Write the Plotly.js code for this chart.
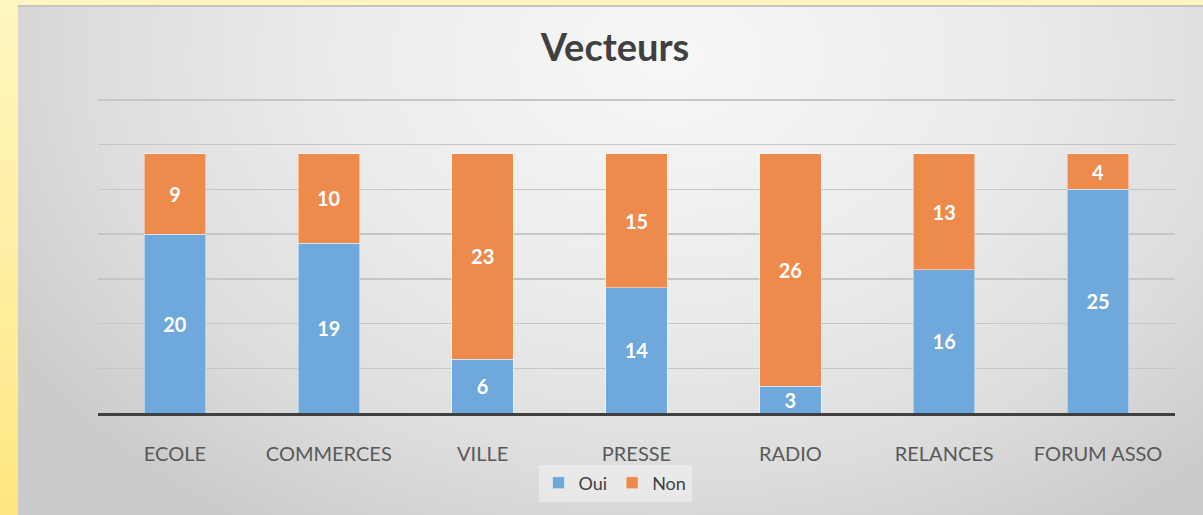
<!DOCTYPE html>
<html>
<head>
<meta charset="utf-8">
<script src="https://cdn.plot.ly/plotly-3.0.1.min.js"></script>
<style>
html,body{margin:0;padding:0;width:1203px;height:515px;overflow:hidden;}
body{background:linear-gradient(to bottom,#fff5c0 0%,#ffee9c 60%,#ffe680 100%);position:relative;}
#bg{position:absolute;left:18px;top:5px;width:1185px;height:510px;
 background:radial-gradient(ellipse 65% 110% at 55% 10%,#f7f7f7 0%,#ebebeb 45%,#dddddd 75%,#cbcbcb 100%);
 border-top:2px solid #c4c4c4;box-sizing:border-box;}
#chart{position:absolute;left:0;top:0;width:1203px;height:515px;}
</style>
</head>
<body>
<div id="bg"></div>
<div id="chart"></div>
<script>
const categories = ["ECOLE","COMMERCES","VILLE","PRESSE","RADIO","RELANCES","FORUM ASSO"];
const oui = [20,19,6,14,3,16,25];
const non = [9,10,23,15,26,13,4];
const seriesNames = ["Oui","Non"];
const colors = ["#6fa8da","#ee8b4c"];

const FONT = "Lato, 'Open Sans', sans-serif";
const labelFont = {family:FONT, size:20, color:"#ffffff", weight:"bold"};
const traces = [oui, non].map((vals,i)=>({
  type:"bar", x:categories, y:vals, name:seriesNames[i],
  marker:{color:colors[i], line:{color:"rgba(255,255,255,0.45)", width:1}},
  text:vals.map(String), textposition:"inside", insidetextanchor:"middle",
  textangle:0, constraintext:"none",
  textfont:labelFont, hoverinfo:"skip", cliponaxis:false
}));

const cx = (615-98)/1077;
const layout = {
  width:1203, height:515,
  paper_bgcolor:"rgba(0,0,0,0)", plot_bgcolor:"rgba(0,0,0,0)",
  margin:{l:98, r:28, t:91, b:102},
  barmode:"stack", bargap:0.6,
  showlegend:true,
  title:{text:"<b>Vecteurs</b>", x:615/1203, xanchor:"center", xref:"container", y:1-48/515, yanchor:"middle", yref:"container",
    font:{family:FONT, size:38, color:"#404040"}},
  xaxis:{showgrid:false, zeroline:false, showline:true, linecolor:"#404040", linewidth:2.5,
    ticks:"", ticklabelstandoff:21,
    tickfont:{family:FONT, size:20, color:"#595959"}},
  yaxis:{range:[0,36], tickvals:[5,10,15,20,25,30,35], showticklabels:false, showgrid:true, gridcolor:"#c6c6c6", gridwidth:1.5,
    zeroline:false, showline:false, fixedrange:true},
  legend:{orientation:"h", traceorder:"normal", x:cx, xref:"paper", xanchor:"center", y:(413-483)/322, yanchor:"middle",
    bgcolor:"rgba(242,242,242,0.6)", borderwidth:0, itemwidth:30,
    font:{family:FONT, size:18, color:"#404040"}}
};
Plotly.newPlot("chart", traces, layout, {staticPlot:true, displayModeBar:false});
</script>
</body>
</html>
